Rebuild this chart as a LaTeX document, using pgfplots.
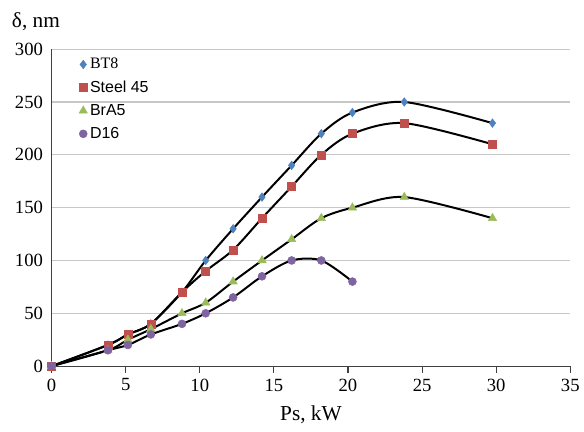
\documentclass[border=0pt]{standalone}
\usepackage{pgfplots}
\pgfplotsset{compat=1.18}
\usepackage{fontspec}
\setmainfont{Liberation Serif}
\newfontfamily\arial{Liberation Sans}
\newfontfamily\timesf{Liberation Serif}
\definecolor{cBT}{HTML}{4F81BD}
\definecolor{cST}{HTML}{C0504D}
\definecolor{cBR}{HTML}{9BBB59}
\definecolor{cDS}{HTML}{8064A2}
\newcommand{\px}{0.75pt}
\begin{document}
\begin{tikzpicture}
\begin{axis}[
  scale only axis,
  width=390pt, height=238.3pt,
  xmin=0, xmax=35, ymin=0, ymax=300,
  xtick={0,5,...,35}, ytick={0,50,...,300},
  axis x line*=bottom, axis y line*=left,
  axis line style={black!75, line width=0.8pt},
  x axis line style={-}, y axis line style={-},
  ymajorgrids, grid style={black!22, line width=0.8pt},
  xtick style={black!75, line width=0.8pt},
  major tick length=5pt,
  tick align=outside,
  ytick style={draw=none},
  ticklabel style={font=\fontsize{14}{14}\selectfont},
  /pgf/number format/assume math mode=true,
  yticklabel style={xshift=2pt},
  xticklabel style={yshift=-1pt},
  legend style={draw=none, fill=none, at={(rel axis cs:0.05,0.985)}, anchor=north west,
     font=\arial\fontsize{12}{13}\selectfont, row sep=3.5pt, inner sep=1pt},
  legend cell align=left,
  clip=false,
]
% smooth black curves
\addplot[black, line width=1.5pt, smooth, forget plot] coordinates {
(0,0) (3.8,20) (5.15,30) (6.7,40) (8.8,70) (10.4,100) (12.25,130) (14.2,160) (16.2,190) (18.2,220) (20.3,240) (23.8,250) (29.75,230)};
\addplot[black, line width=1.5pt, smooth, forget plot] coordinates {
(0,0) (3.8,20) (5.15,30) (6.7,40) (8.8,70) (10.4,90) (12.25,110) (14.2,140) (16.2,170) (18.2,200) (20.3,220) (23.8,230) (29.75,210)};
\addplot[black, line width=1.5pt, smooth, forget plot] coordinates {
(0,0) (3.8,15) (5.15,25) (6.7,35) (8.8,50) (10.4,60) (12.25,80) (14.2,100) (16.2,120) (18.2,140) (20.3,150) (23.8,160) (29.75,140)};
\addplot[black, line width=1.5pt, smooth, forget plot] coordinates {
(0,0) (3.8,15) (5.15,20) (6.7,30) (8.8,40) (10.4,50) (12.25,65) (14.2,85) (16.2,100) (18.2,100) (20.3,80)};
% markers
\addplot[only marks, mark=diamond*, mark size=3.2pt, cBT, mark options={draw=cBT, fill=cBT}] coordinates {
(0,0) (3.8,20) (5.15,30) (6.7,40) (8.8,70) (10.4,100) (12.25,130) (14.2,160) (16.2,190) (18.2,220) (20.3,240) (23.8,250) (29.75,230)};
\addlegendentry{{\timesf BT8}}
\addplot[only marks, mark=square*, mark size=3pt, cST, mark options={draw=cST, fill=cST}] coordinates {
(0,0) (3.8,20) (5.15,30) (6.7,40) (8.8,70) (10.4,90) (12.25,110) (14.2,140) (16.2,170) (18.2,200) (20.3,220) (23.8,230) (29.75,210)};
\addlegendentry{Steel 45}
\addplot[only marks, mark=triangle*, mark size=3.6pt, cBR, mark options={draw=cBR, fill=cBR}] coordinates {
(0,0) (3.8,15) (5.15,25) (6.7,35) (8.8,50) (10.4,60) (12.25,80) (14.2,100) (16.2,120) (18.2,140) (20.3,150) (23.8,160) (29.75,140)};
\addlegendentry{BrA5}
\addplot[only marks, mark=*, mark size=3pt, cDS, mark options={draw=cDS, fill=cDS}] coordinates {
(0,0) (3.8,15) (5.15,20) (6.7,30) (8.8,40) (10.4,50) (12.25,65) (14.2,85) (16.2,100) (18.2,100) (20.3,80)};
\addlegendentry{D16}
\node[font=\fontsize{16}{16}\selectfont] at ([shift={(-15.7*\px,28*\px)}]rel axis cs:0,1) {δ, nm};
\node[font=\fontsize{16}{16}\selectfont] at ([shift={(0,-49*\px)}]rel axis cs:0.5,0) {Ps, kW};
\end{axis}
\path[use as bounding box] ([shift={(-51.7*\px,-66*\px)}]current axis.south west) rectangle ([shift={(12*\px,49.3*\px)}]current axis.north east);
\end{tikzpicture}
\end{document}
